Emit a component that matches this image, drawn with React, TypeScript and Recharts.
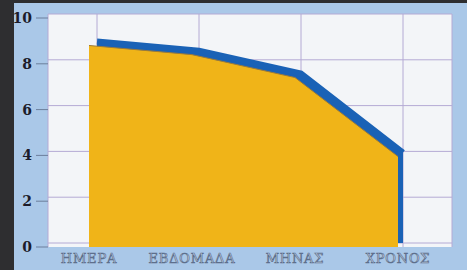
import React from "react";
import { ComposedChart, Area, XAxis, YAxis, CartesianGrid } from "recharts";

const categories = ["ΗΜΕΡΑ", "ΕΒΔΟΜΑΔΑ", "ΜΗΝΑΣ", "ΧΡΟΝΟΣ"];
const values = [8.8, 8.4, 7.4, 3.95];
const yTicks = [0, 2, 4, 6, 8, 10];

const data = categories.map((name, i) => ({ name, v: values[i] }));

const XTick = (props: any) => {
  const { x, y, payload } = props;
  return (
    <text
      x={x}
      y={y + 8}
      textAnchor="middle"
      fontFamily="'DejaVu Serif', serif"
      fontSize={13}
      letterSpacing={0.8}
      fill="#d3dfee"
      stroke="#5d6f8c"
      strokeWidth={0.7}
    >
      {payload.value}
    </text>
  );
};

const App = () => {
  return (
    <div style={{ position: "absolute", left: 0, top: 0, width: 467, height: 270, background: "#2e2e30" }}>
      <div style={{ position: "absolute", left: 14, top: 3, width: 453, height: 267, background: "#aac8e8" }} />
      <div style={{ position: "absolute", left: 0, top: 0 }}>
        <ComposedChart
          width={467}
          height={270}
          data={data}
          margin={{ top: 14, right: 15, bottom: 3, left: 14 }}
        >
          <XAxis
            xAxisId="front"
            dataKey="name"
            height={20}
            axisLine={false}
            tickLine={false}
            interval={0}
            tick={<XTick />}
            padding={{ left: 41, right: 54 }}
          />
          <YAxis
            yAxisId="front"
            width={34}
            domain={[0, 10]}
            ticks={yTicks}
            axisLine={false}
            tickSize={12}
            tickMargin={4}
            tickLine={{ stroke: "#6c7f9c" }}
            padding={{ top: 4, bottom: 0 }}
            tick={{ fill: "#1c1c2a", fontSize: 14, fontWeight: 700, fontFamily: "'DejaVu Serif', serif" }}
          />
          <XAxis
            xAxisId="back"
            dataKey="name"
            hide
            height={0}
            padding={{ left: 49, right: 49 }}
          />
          <YAxis
            yAxisId="back"
            hide
            width={0}
            domain={[0, 10]}
            ticks={yTicks}
            padding={{ top: 0, bottom: 4 }}
          />
          <CartesianGrid
            xAxisId="back"
            yAxisId="back"
            fill="#f3f5f8"
            fillOpacity={1}
            stroke="#b4aad4"
            horizontalValues={yTicks}
          />
          <Area
            xAxisId="back"
            yAxisId="back"
            type="linear"
            dataKey="v"
            fill="#1a62b6"
            fillOpacity={1}
            stroke="#1a62b6"
            strokeWidth={6}
            isAnimationActive={false}
          />
          <Area
            xAxisId="front"
            yAxisId="front"
            type="linear"
            dataKey="v"
            fill="#f0b418"
            fillOpacity={1}
            stroke="#9a7a3a"
            strokeWidth={1}
            isAnimationActive={false}
          />
        </ComposedChart>
      </div>
    </div>
  );
};

export default App;
